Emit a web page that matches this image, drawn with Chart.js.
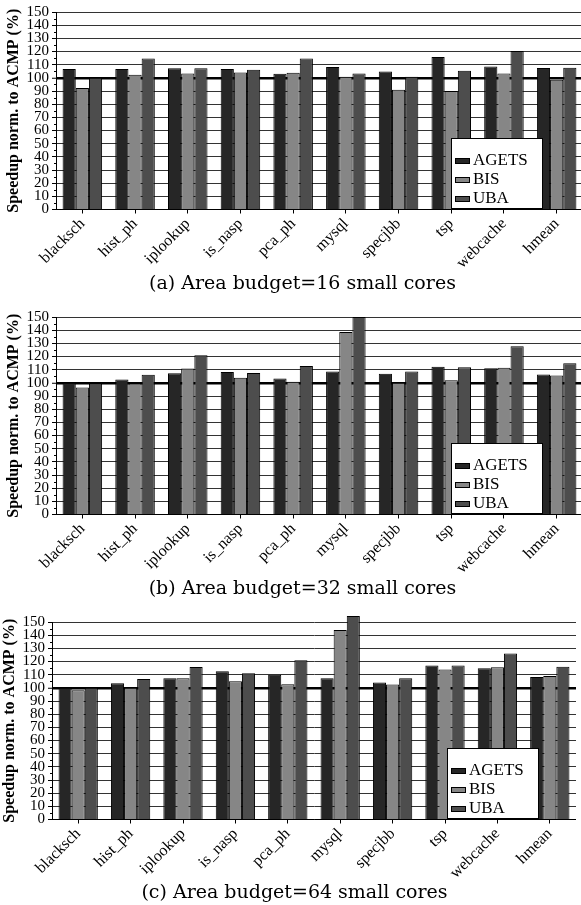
<!DOCTYPE html>
<html>
<head>
<meta charset="utf-8">
<script src="https://cdn.jsdelivr.net/npm/chart.js@4.4.1/dist/chart.umd.min.js"></script>
<style>
  html, body { margin: 0; padding: 0; background: #fff; overflow: hidden; }
  body { width: 581px; height: 905px; position: relative; }
  .panel { position: absolute; }
  .caption {
    position: absolute; left: 0; width: 581px; text-align: center;
    font-family: 'DejaVu Serif', serif; font-size: 19px; color: #000;
    line-height: 22px;
  }
</style>
</head>
<body>
<div class="panel" style="left:0; top:0; width:583px; height:272px;"><canvas id="chartA"></canvas></div>
<div class="caption" style="top:271px; padding-left:12px;">(a) Area budget=16 small cores</div>

<div class="panel" style="left:0; top:305px; width:583px; height:272px;"><canvas id="chartB"></canvas></div>
<div class="caption" style="top:576px; padding-left:12px;">(b) Area budget=32 small cores</div>

<div class="panel" style="left:-4px; top:610px; width:580px; height:272px;"><canvas id="chartC"></canvas></div>
<div class="caption" style="top:880px; padding-left:4px;">(c) Area budget=64 small cores</div>

<script>
// categorias e séries
const categorias = ['blacksch', 'hist_ph', 'iplookup', 'is_nasp', 'pca_ph', 'mysql', 'specjbb', 'tsp', 'webcache', 'hmean'];
const nomesSeries = ['AGETS', 'BIS', 'UBA'];
const coresSeries = ['#262626', '#868686', '#4d4d4d'];

// (a) 16 small cores
const agets16 = [106.7, 106.7, 107.2, 106.7, 103.1, 108.2, 104.9, 115.9, 108.7, 107.4];
const bis16   = [92.3, 102.3, 103.3, 104.1, 103.8, 100.8, 91.0, 90.0, 103.3, 98.5];
const uba16   = [100.0, 114.6, 107.2, 106.2, 114.6, 103.3, 100.8, 105.4, 120.3, 107.7];

// (b) 32 small cores
const agets32 = [100.0, 102.6, 107.2, 108.2, 103.3, 108.7, 106.9, 112.3, 111.0, 106.4];
const bis32   = [96.4, 99.5, 110.8, 103.8, 100.8, 138.7, 100.0, 102.0, 111.5, 105.6];
const uba32   = [99.5, 106.2, 121.0, 107.4, 112.8, 150.0, 108.7, 111.8, 127.7, 114.9];

// (c) 64 small cores
const agets64 = [100.0, 103.5, 107.3, 112.6, 110.0, 107.3, 104.0, 117.0, 114.8, 108.3];
const bis64   = [98.2, 100.0, 107.3, 105.0, 102.8, 144.0, 102.5, 114.0, 115.6, 109.0];
const uba64   = [100.0, 106.8, 115.8, 111.0, 120.9, 154.5, 107.3, 117.0, 126.0, 116.0];

const yMin = 0;
const yMax = 150;
const yStep = 10;
const linhaBase = 100;

const fonteSerif = '"Liberation Serif", "Times New Roman", serif';

// legenda desenhada dentro da área do gráfico
const legendaCaixa = {
    id: 'legendaCaixa',
    afterDatasetsDraw(chart, args, opts) {
        const ctx = chart.ctx;
        ctx.save();
        ctx.fillStyle = '#fff';
        ctx.strokeStyle = '#000';
        ctx.lineWidth = 1;
        ctx.fillRect(opts.x, opts.y, opts.w, opts.h);
        ctx.strokeRect(opts.x + 0.5, opts.y + 0.5, opts.w, opts.h);
        ctx.font = '17px ' + fonteSerif;
        ctx.textBaseline = 'alphabetic';
        chart.data.datasets.forEach((ds, i) => {
            const base = opts.y + opts.rows[i];
            ctx.fillStyle = ds.backgroundColor;
            ctx.fillRect(opts.x + 4, base - 7, 14, 5);
            ctx.strokeRect(opts.x + 4.5, base - 6.5, 14, 5);
            ctx.fillStyle = '#000';
            ctx.fillText(ds.label, opts.x + 22, base);
        });
        ctx.restore();
    }
};

// pequenos ticks intermediários no eixo y
const ticksMenores = {
    id: 'ticksMenores',
    afterDraw(chart) {
        const y = chart.scales.y;
        const ctx = chart.ctx;
        const x0 = chart.chartArea.left;
        ctx.save();
        ctx.strokeStyle = '#000';
        ctx.lineWidth = 1;
        for (let v = yMin + yStep / 2; v < yMax; v += yStep) {
            const py = Math.round(y.getPixelForValue(v)) + 0.5;
            ctx.beginPath();
            ctx.moveTo(x0 - 2, py);
            ctx.lineTo(x0, py);
            ctx.stroke();
        }
        ctx.restore();
    }
};

function criarGrafico(id, valores) {
    const ctx = document.getElementById(id);
    return new Chart(ctx, {
        type: 'bar',
        data: {
            labels: categorias,
            datasets: valores.map((v, i) => ({
                label: nomesSeries[i],
                data: v,
                backgroundColor: coresSeries[i],
                borderColor: '#000',
                borderWidth: 1,
                borderSkipped: 'bottom',
                categoryPercentage: 0.75,
                barPercentage: 1.0,
                clip: false
            }))
        },
        options: {
            responsive: true,
            maintainAspectRatio: false,
            animation: false,
            layout: { padding: { top: 12, left: 0, right: 0, bottom: 0 } },
            plugins: {
                legend: { display: false },
                tooltip: { enabled: false },
                legendaCaixa: { x: 451, y: 138, w: 91, h: 70, rows: [27, 46, 65] }
            },
            scales: {
                x: {
                    grid: {
                        drawOnChartArea: false,
                        drawTicks: true,
                        tickLength: 4,
                        offset: false,
                        color: '#000'
                    },
                    border: { color: '#000', width: 1 },
                    ticks: {
                        color: '#000',
                        autoSkip: false,
                        maxRotation: 45,
                        minRotation: 45,
                        padding: 1,
                        font: { family: fonteSerif, size: 16 }
                    },
                    afterFit(scale) { scale.height = 62.5; }
                },
                y: {
                    min: yMin,
                    max: yMax,
                    grid: {
                        color: c => c.tick && c.tick.value === linhaBase ? '#000' : '#333',
                        lineWidth: c => c.tick && c.tick.value === linhaBase ? 2.5 : 1,
                        tickLength: 4,
                        tickColor: '#000',
                        tickWidth: 1
                    },
                    border: { color: '#000', width: 1 },
                    ticks: {
                        stepSize: yStep,
                        autoSkip: false,
                        color: '#000',
                        padding: 3,
                        font: { family: fonteSerif, size: 15 }
                    },
                    title: {
                        display: true,
                        text: 'Speedup norm. to ACMP (%)',
                        color: '#000',
                        padding: { top: 4, bottom: 2 },
                        font: { family: fonteSerif, size: 16, weight: 'bold' }
                    },
                    afterFit(scale) { scale.width = 56; }
                }
            }
        },
        plugins: [legendaCaixa, ticksMenores]
    });
}

document.addEventListener('DOMContentLoaded', () => {
    const fontes = [
        document.fonts.load('16px "Liberation Serif"'),
        document.fonts.load('bold 16px "Liberation Serif"')
    ];
    Promise.all(fontes).catch(() => null).then(() => {
        criarGrafico('chartA', [agets16, bis16, uba16]);
        criarGrafico('chartB', [agets32, bis32, uba32]);
        criarGrafico('chartC', [agets64, bis64, uba64]);
    });
});
</script>
</body>
</html>
